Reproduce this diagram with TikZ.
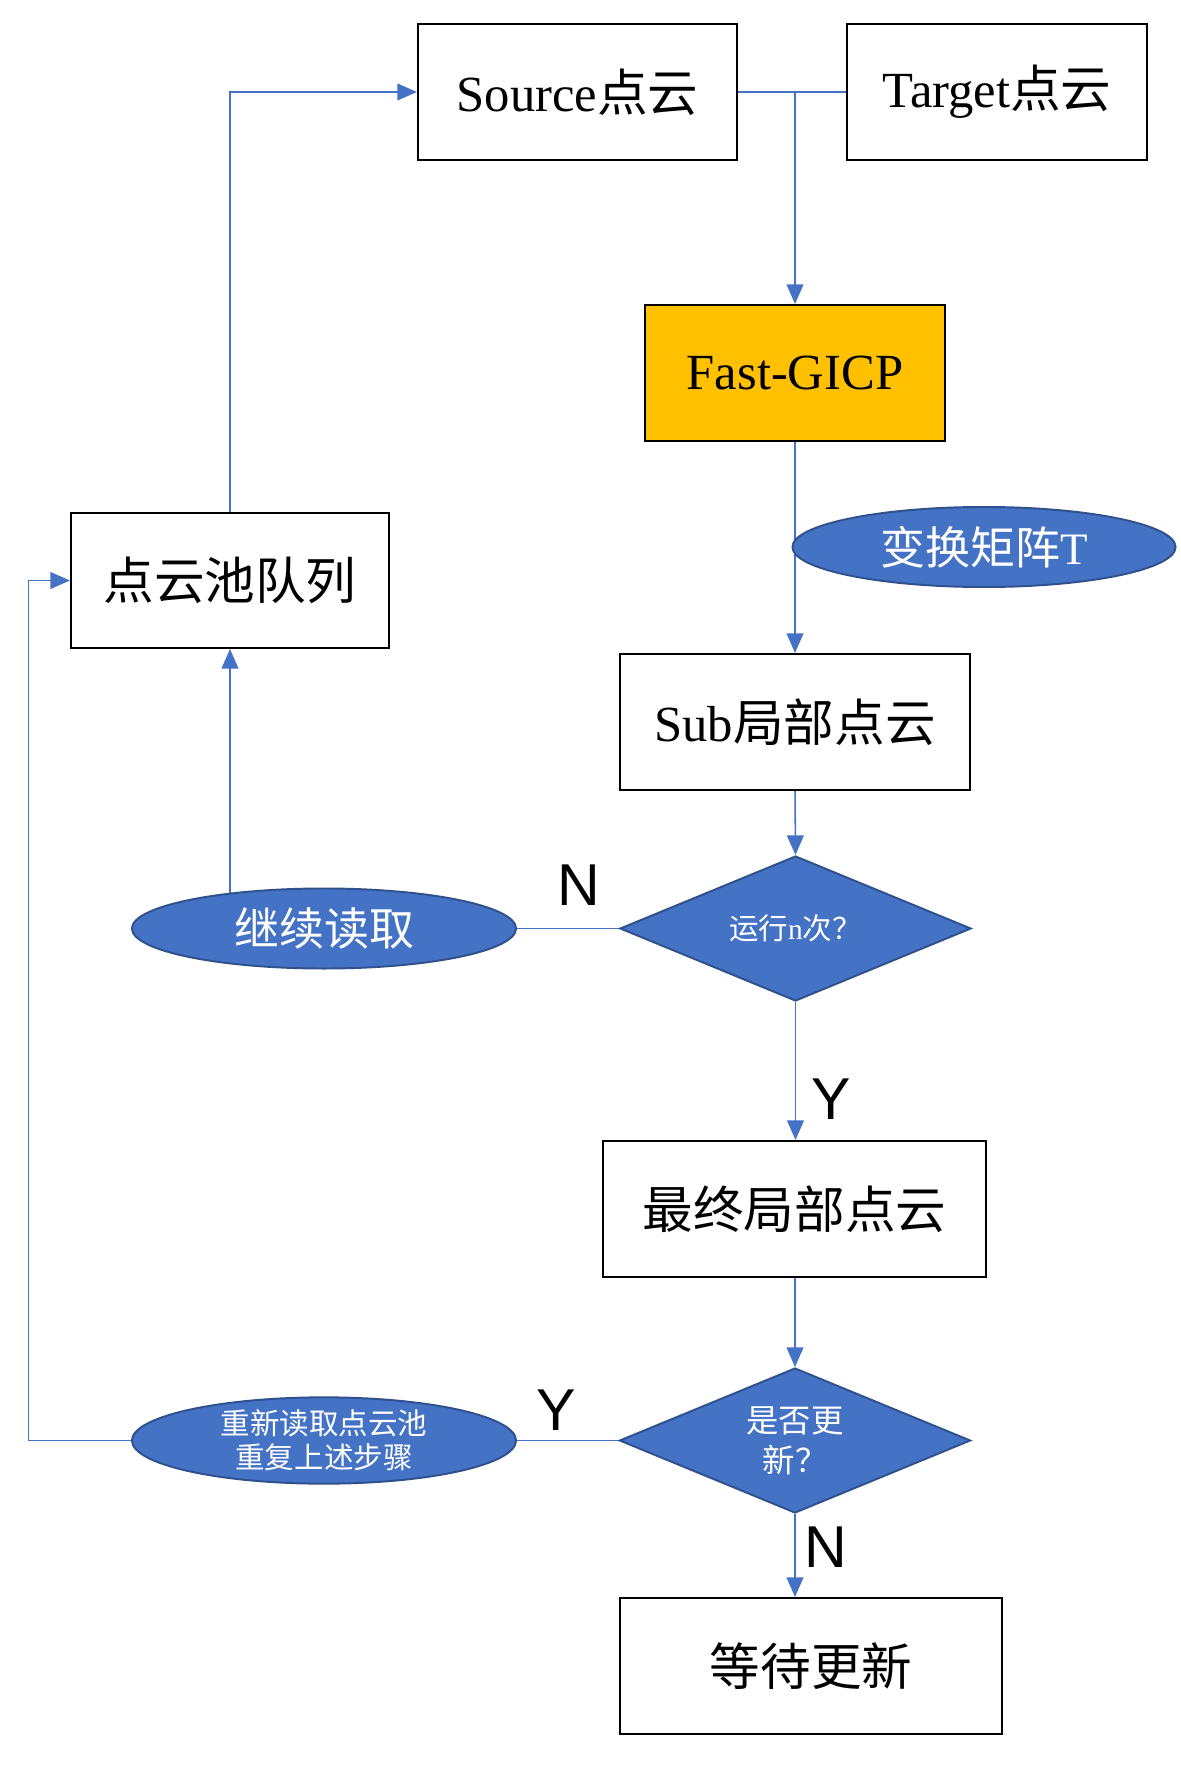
\documentclass[tikz,border=0pt]{standalone}
\usepackage{fontspec}
\setmainfont{Liberation Serif}
\newfontfamily\cjk{Noto Sans CJK SC}
\newfontfamily\labfont{Liberation Sans}
\usetikzlibrary{shapes.geometric,arrows.meta,calc}
\pgfdeclarelayer{bg}
\pgfsetlayers{bg,main}
\definecolor{lblue}{HTML}{4472C4}
\definecolor{dblue}{HTML}{2F528F}
\definecolor{gold}{HTML}{FFC000}
\begin{document}
\begin{tikzpicture}[x=0.025cm,y=-0.025cm,
  box/.style={draw=black, line width=1.4pt, rectangle, minimum height=3.4cm, inner sep=0pt, font=\fontsize{36}{40}\selectfont},
  oval/.style={ellipse, draw=dblue, line width=1.4pt, fill=lblue, text=white, inner sep=0pt, minimum width=9.6cm, minimum height=2cm},
  dia/.style={diamond, aspect=2.42, draw=dblue, line width=1.4pt, fill=lblue, text=white, inner sep=0pt, minimum width=8.775cm, minimum height=3.625cm, align=center},
  conn/.style={draw=lblue, line width=1.1pt},
  arr/.style={conn, -{Triangle[length=14pt,width=12pt]}},
  lab/.style={font=\labfont\fontsize{42}{42}\selectfont, inner sep=0pt}]
\useasboundingbox (0,0) rectangle (1180,1766);

\node[box, minimum width=7.975cm] (src) at (577.5,92) {Source{\cjk 点云}};
\node[box, minimum width=7.5cm] (tgt) at (997,92) {Target{\cjk 点云}};
\node[box, fill=gold, minimum width=7.475cm] (gicp) at (795,373) {Fast-GICP};
\node[box, minimum width=7.95cm, minimum height=3.375cm] (queue) at (230,580.5) {\cjk 点云池队列};
\node[box, minimum width=8.725cm] (sub) at (795,722) {Sub{\cjk 局部点云}};
\node[dia, font=\fontsize{21}{24}\selectfont] (d1) at (795.5,928.5) {{\cjk 运行}n{\cjk 次？}};
\node[box, minimum width=9.575cm] (fin) at (794.5,1209) {\cjk 最终局部点云};
\node[dia, font=\cjk\fontsize{23}{28.5}\selectfont] (d2) at (795,1440.5) {是否更\\新？};
\node[box, minimum width=9.55cm] (wait) at (811,1666) {\cjk 等待更新};

\node[oval, minimum width=9.575cm, font=\fontsize{32}{36}\selectfont] (mat) at (984,547) {{\cjk 变换矩阵}T};
\node[oval, font=\cjk\fontsize{32}{36}\selectfont] (cont) at (324,928.5) {继续读取};
\node[oval, minimum height=2.025cm, align=center, font=\cjk\fontsize{21}{24}\selectfont] (redo) at (324,1440.5) {重新读取点云池\\重复上述步骤};

\node[lab] (n1) at (579,885) {N};
\node[lab] (y1) at (831,1099) {Y};
\node[lab] (y2) at (556,1410) {Y};
\node[lab] (n2) at (826,1547) {N};

\coordinate (j) at (gicp.north |- src.east);
\coordinate (lft) at (28.6,580.5);

\begin{pgfonlayer}{bg}
\draw[conn] (src.east) -- (tgt.west);
\draw[arr] (j) -- (gicp.north);
\draw[arr] (gicp.south) -- (sub.north);
\draw[arr] (sub.south) -- (d1.north);
\draw[arr] (d1.south) -- (d1.south |- fin.north);
\draw[arr] (fin.south) -- (fin.south -| d2.north) -- (d2.north);
\draw[arr] (d2.south) -- (d2.south |- wait.north);
\draw[conn] (cont.east) -- (d1.west);
\draw[conn] (redo.east) -- (d2.west);
\draw[arr] (queue.south |- cont.center) -- (queue.south);
\draw[arr] (queue.north) |- (src.west);
\draw[arr] (redo.west) -| (lft) -- (queue.west);
\end{pgfonlayer}
\end{tikzpicture}
\end{document}
